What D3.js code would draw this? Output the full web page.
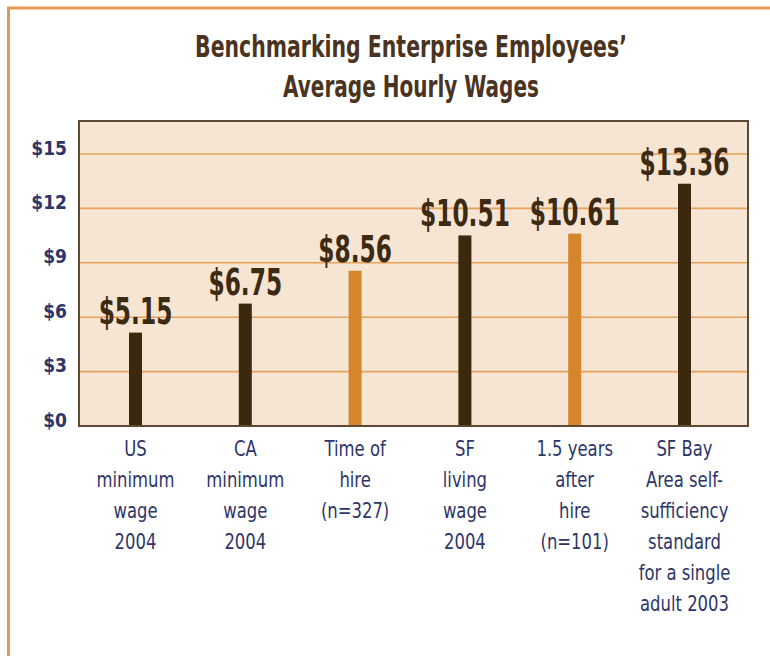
<!DOCTYPE html>
<html>
<head>
<meta charset="utf-8">
<script src="https://cdn.jsdelivr.net/npm/d3@7"></script>
<style>
  body { margin: 0; background: #fff; }
  svg { display: block; }
</style>
</head>
<body>
<div id="chart"></div>
<script>
// data
var categories = [
  ["US", "minimum", "wage", "2004"],
  ["CA", "minimum", "wage", "2004"],
  ["Time of", "hire", "(n=327)"],
  ["SF", "living", "wage", "2004"],
  ["1.5 years", "after", "hire", "(n=101)"],
  ["SF Bay", "Area self-", "sufficiency", "standard", "for a single", "adult 2003"]
];
var wages = [5.15, 6.75, 8.56, 10.51, 10.61, 13.36];
var isEnterprise = [false, false, true, false, true, false];
var yTicks = [0, 3, 6, 9, 12, 15];
var titleLines = ["Benchmarking Enterprise Employees\u2019", "Average Hourly Wages"];

var W = 770, H = 656;
var box = {left: 79, right: 748, top: 121, bottom: 426};
var condensed = "'DejaVu Sans Condensed', 'DejaVu Sans', sans-serif";

var svg = d3.select("#chart").append("svg")
  .attr("width", W)
  .attr("height", H);

// orange page frame (top and left edges visible)
svg.append("rect")
  .attr("x", 8.5).attr("y", 8)
  .attr("width", W + 20).attr("height", H + 20)
  .attr("fill", "none")
  .attr("stroke", "#e39a4c")
  .attr("stroke-width", 3);

// title, squeezed horizontally like the original's compressed face
svg.selectAll(".title")
  .data(titleLines)
  .enter().append("text")
  .attr("class", "title")
  .attr("text-anchor", "middle")
  .style("font-family", condensed)
  .style("font-weight", "bold")
  .style("font-size", "31px")
  .style("fill", "#4a3320")
  .text(d => d)
  .attr("transform", function(d, i) {
    var target = i === 0 ? 432 : 256;
    var sx = target / this.getComputedTextLength();
    return "translate(411," + (57 + i * 40) + ") scale(" + sx + ",1)";
  });

// scales
var x = d3.scaleBand()
  .domain(d3.range(wages.length))
  .range([80.6, 739.4]);

var y = d3.scaleLinear()
  .domain([0, 15])
  .range([box.bottom, 154]);

// plot background
svg.append("rect")
  .attr("x", box.left).attr("y", box.top)
  .attr("width", box.right - box.left)
  .attr("height", box.bottom - box.top)
  .attr("fill", "#f6e5d3");

// gridlines
svg.selectAll(".grid")
  .data(yTicks.filter(t => t > 0))
  .enter().append("line")
  .attr("class", "grid")
  .attr("x1", box.left).attr("x2", box.right)
  .attr("y1", d => y(d)).attr("y2", d => y(d))
  .attr("stroke", "#e4a25a")
  .attr("stroke-width", 1.6);

// y axis labels
var yAxis = svg.append("g")
  .attr("transform", "translate(" + (box.left - 12) + ",0)")
  .call(d3.axisLeft(y).tickValues(yTicks).tickSize(0).tickPadding(0)
    .tickFormat(d => "$" + d));
yAxis.select(".domain").remove();
yAxis.selectAll("text")
  .attr("dy", 0)
  .style("font-family", condensed)
  .style("font-weight", "bold")
  .style("font-size", "19px")
  .style("fill", "#2d3569");

// bars
var barW = 13;
svg.selectAll(".bar")
  .data(wages)
  .enter().append("rect")
  .attr("class", "bar")
  .attr("x", (d, i) => x(i) + x.bandwidth() / 2 - barW / 2)
  .attr("y", d => y(d))
  .attr("width", barW)
  .attr("height", d => y(0) - y(d))
  .attr("fill", (d, i) => isEnterprise[i] ? "#d5862c" : "#3c280c");

// plot border
svg.append("rect")
  .attr("x", box.left).attr("y", box.top)
  .attr("width", box.right - box.left)
  .attr("height", box.bottom - box.top)
  .attr("fill", "none")
  .attr("stroke", "#5e4a34")
  .attr("stroke-width", 2);

// value labels
svg.selectAll(".value")
  .data(wages)
  .enter().append("text")
  .attr("class", "value")
  .attr("transform", (d, i) => "translate(" + (x(i) + x.bandwidth() / 2) + "," + (y(d) - 9) + ") scale(0.7,1)")
  .attr("text-anchor", "middle")
  .style("font-family", condensed)
  .style("font-weight", "bold")
  .style("font-size", "37px")
  .style("fill", "#3c2a12")
  .text(d => "$" + d3.format(".2f")(d));

// category labels, narrowed to match the condensed face
var cat = svg.selectAll(".cat")
  .data(categories)
  .enter().append("text")
  .attr("class", "cat")
  .attr("transform", (d, i) => "translate(" + (x(i) + x.bandwidth() / 2) + ",0) scale(0.87,1)")
  .attr("text-anchor", "middle")
  .style("font-family", condensed)
  .style("font-size", "21px")
  .style("fill", "#2d3569");

cat.selectAll("tspan")
  .data(d => d)
  .enter().append("tspan")
  .attr("x", 0)
  .attr("y", (d, j) => 456 + j * 31)
  .text(d => d);
</script>
</body>
</html>
